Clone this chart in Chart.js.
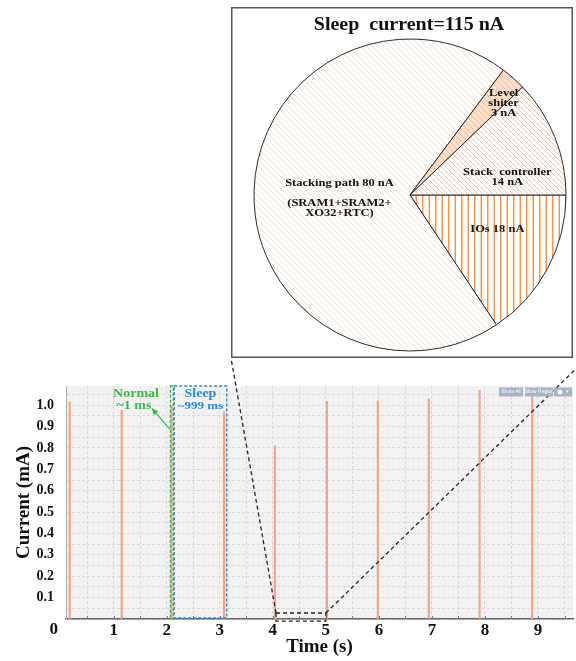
<!DOCTYPE html>
<html>
<head>
<meta charset="utf-8">
<script src="https://cdn.jsdelivr.net/npm/chart.js@4.4.1/dist/chart.umd.min.js"></script>
<style>
  html, body { margin: 0; padding: 0; background: #fff; }
  #wrap { position: relative; width: 576px; height: 661px; overflow: hidden; }
  #currentChart { position: absolute; left: 0; top: 0; }
  #sleepPie { position: absolute; left: 231px; top: 7px; }
</style>
</head>
<body>
<div id="wrap">
  <canvas id="currentChart" width="576" height="661"></canvas>
  <canvas id="sleepPie" width="342" height="351"></canvas>
</div>
<script>
// sleep current breakdown (nA), clockwise starting at 3 o'clock
const sliceNames = ['IOs', 'Stacking path', 'Level shiter', 'Stack  controller'];
const sliceValues = [18, 80, 3, 14];
const sleepTotal = 115;

// one spike per wake-up: time (s) and peak current (mA)
const spikeTimes = [0.17, 1.15, 2.09, 3.08, 4.04, 5.02, 5.98, 6.94, 7.9, 8.89];
const spikePeaks = [1.015, 0.977, 1.0, 0.97, 0.81, 1.018, 1.02, 1.03, 1.07, 1.055];

// tick labels
const timeTicks = [0, 1, 2, 3, 4, 5, 6, 7, 8, 9];
const currentTicks = [0.1, 0.2, 0.3, 0.4, 0.5, 0.6, 0.7, 0.8, 0.9, 1.0];

// marked windows on the time axis (s)
const normalWindow = [2.07, 2.125];
const sleepWindow = [2.14, 3.13];
const zoomWindowX = [4.06, 5.0];
const zoomWindowY = [-0.01, 0.028];

const SERIF = '"Liberation Serif", "Times New Roman", serif';

// text in the figure is a bit squashed vertically
function squish(ctx, text, x, y, sy) {
  ctx.save();
  ctx.translate(x, y);
  ctx.scale(1, sy);
  ctx.fillText(text, 0, 0);
  ctx.restore();
}

// ---------- pie ----------
const pieCanvas = document.getElementById('sleepPie');
const pctx = pieCanvas.getContext('2d');

function hatch(bg, color, size, width, kind) {
  const c = document.createElement('canvas');
  c.width = size; c.height = size;
  const g = c.getContext('2d');
  g.fillStyle = bg;
  g.fillRect(0, 0, size, size);
  g.strokeStyle = color;
  g.lineWidth = width;
  g.beginPath();
  if (kind === 'v') {
    g.moveTo(size / 4, 0); g.lineTo(size / 4, size);
    g.moveTo(size * 3 / 4, 0); g.lineTo(size * 3 / 4, size);
  } else {
    for (const o of [-size, 0, size]) { g.moveTo(o, 0); g.lineTo(o + size, size); }
  }
  g.stroke();
  return pctx.createPattern(c, 'repeat');
}

const sliceFills = [
  hatch('#ffffff', '#f08c3c', 13, 1.3, 'v'),
  hatch('#ffffff', '#fbdccb', 6, 1.0, 'd'),
  hatch('#fbe0cd', '#f3bd9c', 6, 1.0, 'd'),
  hatch('#ffffff', '#f6c6a9', 5, 1.0, 'd')
];

const sliceText = [
  [`IOs ${sliceValues[0]} nA`],
  [`Stacking path ${sliceValues[1]} nA`, '', '(SRAM1+SRAM2+', 'XO32+RTC)'],
  ['Level', 'shiter', `${sliceValues[2]} nA`],
  ['Stack  controller', `${sliceValues[3]} nA`]
];

const pieDecor = {
  id: 'pieDecor',
  afterDraw(chart, args, opts) {
    const {ctx, width, height} = chart;
    const arc = chart.getDatasetMeta(0).data[0];
    const cx = arc.x, cy = arc.y, r = arc.outerRadius;
    ctx.save();
    ctx.strokeStyle = '#555';
    ctx.lineWidth = 1.5;
    ctx.strokeRect(0.75, 0.75, width - 1.5, height - 1.5);
    ctx.fillStyle = '#111';
    ctx.textAlign = 'center';
    ctx.textBaseline = 'middle';
    ctx.font = 'bold 20px ' + SERIF;
    squish(ctx, `Sleep  current=${sleepTotal} nA`, cx - 1, 18, 0.92);
    ctx.font = 'bold 12.5px ' + SERIF;
    sliceText.forEach((lines, i) => {
      const [fx, fy] = opts.spots[i];
      lines.forEach((t, k) => squish(ctx, t, cx + fx * r, cy + fy * r + k * 10, 0.78));
    });
    ctx.restore();
  }
};

new Chart(pieCanvas, {
  type: 'pie',
  data: {
    labels: sliceNames,
    datasets: [{
      data: sliceValues,
      backgroundColor: sliceFills,
      borderColor: '#2b2b2b',
      borderWidth: 1
    }]
  },
  options: {
    responsive: false,
    animation: false,
    rotation: 90,
    radius: 156,
    layout: { padding: { left: 16, top: 25, right: 0, bottom: 0 } },
    plugins: {
      legend: { display: false },
      tooltip: { enabled: false },
      pieDecor: { spots: [[0.56, 0.223], [-0.452, -0.076], [0.6, -0.65], [0.624, -0.146]] }
    }
  },
  plugins: [pieDecor]
});

// ---------- current trace ----------
const plotBg = {
  id: 'plotBg',
  beforeDraw(chart) {
    const {ctx, chartArea: a} = chart;
    ctx.save();
    ctx.fillStyle = '#f2f2f2';
    ctx.fillRect(a.left, a.top, a.right - a.left, a.bottom - a.top);
    ctx.restore();
  }
};

function dashedRect(ctx, x0, y0, x1, y1, color, w) {
  ctx.strokeStyle = color;
  ctx.lineWidth = w;
  ctx.setLineDash([3, 2]);
  ctx.strokeRect(x0, y0, x1 - x0, y1 - y0);
}

const traceDecor = {
  id: 'traceDecor',
  afterDraw(chart) {
    const {ctx, chartArea: a, scales: {x, y}} = chart;
    ctx.save();

    // inward minor ticks on the time axis
    ctx.strokeStyle = '#777';
    ctx.lineWidth = 1;
    for (let v = 0.5; v < x.max; v += 0.5) {
      const px = Math.round(x.getPixelForValue(v)) + 0.5;
      ctx.beginPath(); ctx.moveTo(px, a.bottom - 3); ctx.lineTo(px, a.bottom); ctx.stroke();
    }

    // tick labels left of the visible range
    ctx.fillStyle = '#111';
    ctx.font = 'bold 17px ' + SERIF;
    ctx.textAlign = 'center';
    ctx.textBaseline = 'top';
    timeTicks.filter(t => t < x.min).forEach(t => ctx.fillText(String(t), x.getPixelForValue(t) - 7, a.bottom + 2));

    // Normal / Sleep windows
    dashedRect(ctx, x.getPixelForValue(normalWindow[0]), a.top, x.getPixelForValue(normalWindow[1]), a.bottom, '#3bb54e', 1.4);
    dashedRect(ctx, x.getPixelForValue(sleepWindow[0]), a.top, x.getPixelForValue(sleepWindow[1]), a.bottom - 1, '#2b88d4', 1.4);

    ctx.setLineDash([]);
    ctx.textBaseline = 'middle';
    ctx.font = 'bold 14px ' + SERIF;
    ctx.fillStyle = '#3bb54e';
    squish(ctx, 'Normal', x.getPixelForValue(1.42), y.getPixelForValue(1.054), 0.85);
    squish(ctx, '~1 ms', x.getPixelForValue(1.38), y.getPixelForValue(0.996), 0.85);
    ctx.fillStyle = '#2b88d4';
    const sx = x.getPixelForValue((sleepWindow[0] + sleepWindow[1]) / 2);
    squish(ctx, 'Sleep', sx, y.getPixelForValue(1.054), 0.85);
    ctx.font = 'bold 13px ' + SERIF;
    squish(ctx, '~999 ms', sx, y.getPixelForValue(0.996), 0.85);

    // arrow from the normal window to its label
    const ax0 = x.getPixelForValue(2.06), ay0 = y.getPixelForValue(0.887);
    const ax1 = x.getPixelForValue(1.72), ay1 = y.getPixelForValue(0.985);
    ctx.strokeStyle = '#3bb54e';
    ctx.fillStyle = '#3bb54e';
    ctx.lineWidth = 1.2;
    ctx.beginPath(); ctx.moveTo(ax0, ay0); ctx.lineTo(ax1, ay1); ctx.stroke();
    const ang = Math.atan2(ay1 - ay0, ax1 - ax0);
    ctx.beginPath();
    ctx.moveTo(ax1, ay1);
    ctx.lineTo(ax1 - 7 * Math.cos(ang - 0.45), ay1 - 7 * Math.sin(ang - 0.45));
    ctx.lineTo(ax1 - 7 * Math.cos(ang + 0.45), ay1 - 7 * Math.sin(ang + 0.45));
    ctx.closePath(); ctx.fill();

    // zoomed region and connectors to the pie box
    const zx0 = x.getPixelForValue(zoomWindowX[0]), zx1 = x.getPixelForValue(zoomWindowX[1]);
    const zy0 = y.getPixelForValue(zoomWindowY[1]), zy1 = y.getPixelForValue(zoomWindowY[0]);
    ctx.strokeStyle = '#222';
    ctx.lineWidth = 1.3;
    ctx.setLineDash([4, 3]);
    ctx.strokeRect(zx0, zy0, zx1 - zx0, zy1 - zy0);
    const box = pieCanvas;
    const bx0 = box.offsetLeft, bx1 = box.offsetLeft + box.offsetWidth, by = box.offsetTop + box.offsetHeight;
    ctx.beginPath();
    ctx.moveTo(zx0, zy0); ctx.lineTo(bx0, by);
    ctx.moveTo(zx1, zy0); ctx.lineTo(bx1 + 14, by);
    ctx.stroke();

    // viewer toolbar
    ctx.setLineDash([]);
    ctx.fillStyle = '#a8b4c6';
    const bt = a.top + 1.5;
    [[a.right - 74, 24], [a.right - 48, 28], [a.right - 19, 18]].forEach(([bx, bw]) => ctx.fillRect(bx, bt, bw, 9));
    ctx.fillStyle = '#fff';
    ctx.font = '5px "Liberation Sans", sans-serif';
    ctx.fillText('Show All', a.right - 62, bt + 4.5);
    ctx.fillText('Show Region', a.right - 34, bt + 4.5);
    ctx.beginPath(); ctx.arc(a.right - 13, bt + 4.5, 2.5, 0, Math.PI * 2); ctx.fill();
    ctx.fillText('▾', a.right - 6, bt + 4.5);

    ctx.restore();
  }
};

const tickFont = (size) => ({ family: SERIF, weight: 'bold', size });
const gridStyle = { color: '#d9d9d9', drawTicks: false, offset: false };

new Chart(document.getElementById('currentChart'), {
  type: 'bar',
  data: {
    datasets: [{
      data: spikeTimes.map((t, i) => ({ x: t, y: spikePeaks[i] })),
      backgroundColor: '#f4a389',
      barThickness: 1.5,
      borderWidth: 0
    }]
  },
  options: {
    responsive: false,
    animation: false,
    layout: { padding: { top: 386, right: 3, left: 0, bottom: 0 } },
    plugins: { legend: { display: false }, tooltip: { enabled: false } },
    scales: {
      x: {
        type: 'linear',
        offset: false,
        min: 0.1,
        max: 9.66,
        afterFit(s) { s.height = 42; },
        grid: gridStyle,
        border: { color: '#666', width: 1.5, dash: [3, 2] },
        ticks: {
          stepSize: 0.5,
          includeBounds: false,
          autoSkip: false,
          maxRotation: 0,
          padding: 1,
          color: '#111',
          font: tickFont(17),
          callback: v => (timeTicks.includes(v) ? String(v) : '')
        },
        title: { display: true, text: 'Time (s)', color: '#111', font: tickFont(19), padding: { top: 0, bottom: 3 } }
      },
      y: {
        min: 0,
        max: 1.09,
        afterFit(s) { s.width = 66; },
        grid: gridStyle,
        border: { color: '#aaa', width: 1, dash: [3, 2] },
        ticks: {
          stepSize: 0.05,
          includeBounds: false,
          autoSkip: false,
          padding: 12,
          color: '#111',
          font: tickFont(14),
          callback: v => {
            const hit = currentTicks.find(t => Math.abs(t - v) < 1e-6);
            return hit === undefined ? '' : hit.toFixed(1);
          }
        },
        title: { display: true, text: 'Current (mA)', color: '#111', font: tickFont(19), padding: { top: 12.5, bottom: 0 } }
      }
    }
  },
  plugins: [plotBg, traceDecor]
});
</script>
</body>
</html>
